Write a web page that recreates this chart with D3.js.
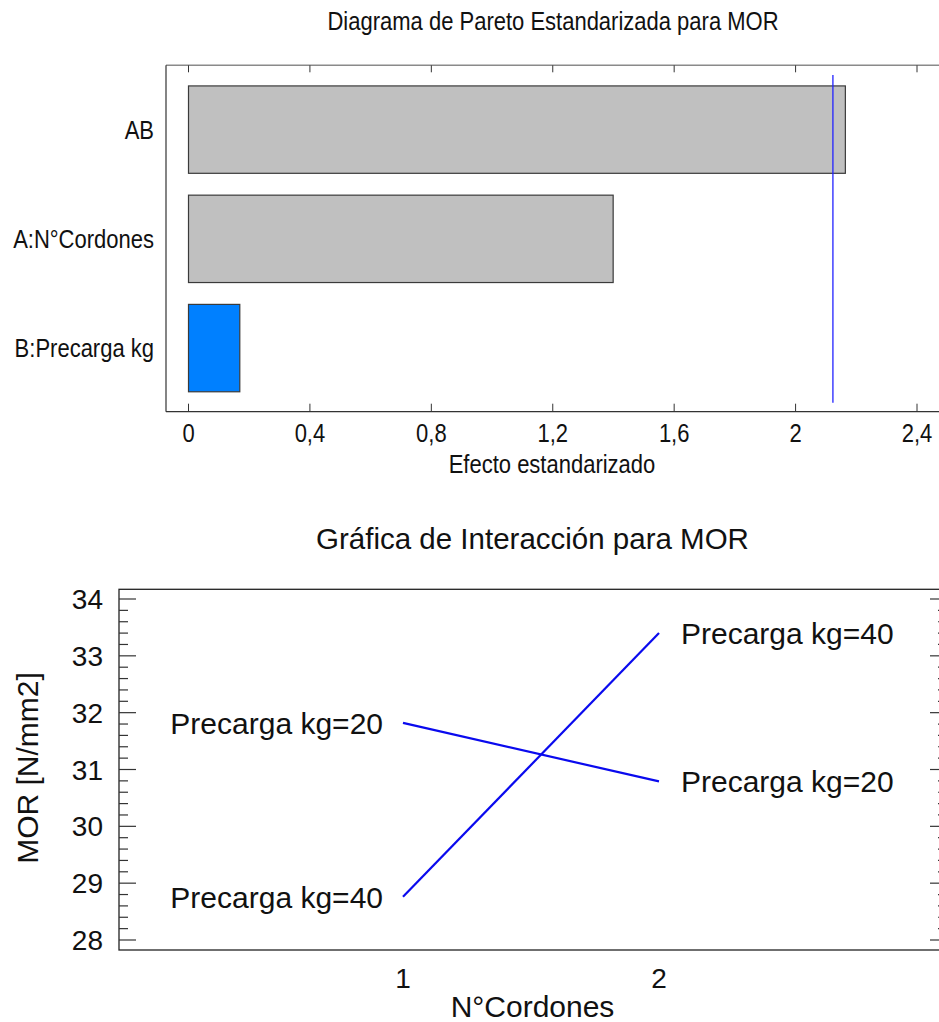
<!DOCTYPE html>
<html>
<head>
<meta charset="utf-8">
<script src="https://cdn.jsdelivr.net/npm/d3@7"></script>
<style>
  html, body { margin: 0; padding: 0; background: #fff; overflow: hidden; }
  svg { display: block; }
  text { font-family: Arial, "Liberation Sans", sans-serif; fill: #111; }
</style>
</head>
<body>
<svg id="chart" width="939" height="1022"></svg>
<script>
// ---------- Data: Pareto chart ----------
const paretoTitle = "Diagrama de Pareto Estandarizada para MOR";
const effectNames = ["AB", "A:N°Cordones", "B:Precarga kg"];
const effectValues = [2.164, 1.399, 0.169];
const effectSigns = ["-", "-", "+"];
const criticalValue = 2.123;
const paretoTicks = [0, 0.4, 0.8, 1.2, 1.6, 2, 2.4];
const paretoXLabel = "Efecto estandarizado";

// ---------- Data: Interaction chart ----------
const interTitle = "Gráfica de Interacción para MOR";
const cordonesLevels = [1, 2];
const seriesNames = ["Precarga kg=20", "Precarga kg=40"];
const mor20 = [31.82, 30.79];
const mor40 = [28.76, 33.40];
const morTicks = [28, 29, 30, 31, 32, 33, 34];
const interXLabel = "N°Cordones";
const interYLabel = "MOR [N/mm2]";

const svg = d3.select("#chart");
const fmt = d3.formatLocale({decimal: ",", thousands: ".", grouping: [3], currency: ["", ""]}).format("~g");

// ================= Pareto chart =================
const P = {left: 166, right: 947, top: 65.3, bottom: 411.7};
const sy = 1.13; // vertical stretch of text in this panel
const xP = d3.scaleLinear().domain([0, 2.4]).range([188.5, 917]);
const yP = d3.scaleBand().domain(effectNames).range([75, 402.7]).paddingInner(0.2).paddingOuter(0.1);
const gP = svg.append("g");

function stretchedText(g, x, y, str, anchor, size) {
  return g.append("text")
    .attr("transform", `translate(${x},${y}) scale(1,${sy})`)
    .attr("text-anchor", anchor)
    .style("font-size", size + "px")
    .text(str);
}

stretchedText(gP, 553, 30, paretoTitle, "middle", 22);

// frame
gP.append("line").attr("x1", P.left).attr("x2", P.right).attr("y1", P.top).attr("y2", P.top)
  .attr("stroke", "#8a8a8a").attr("stroke-width", 1.5);
gP.append("line").attr("x1", P.left).attr("x2", P.left).attr("y1", P.top).attr("y2", P.bottom)
  .attr("stroke", "#333").attr("stroke-width", 1.2);
gP.append("line").attr("x1", P.left).attr("x2", P.right).attr("y1", P.bottom).attr("y2", P.bottom)
  .attr("stroke", "#333").attr("stroke-width", 1.2);

// ticks
gP.selectAll(".tt").data(paretoTicks).join("line")
  .attr("x1", d => xP(d)).attr("x2", d => xP(d)).attr("y1", P.top).attr("y2", P.top + 7)
  .attr("stroke", "#333").attr("stroke-width", 1);
gP.selectAll(".bt").data(paretoTicks).join("line")
  .attr("x1", d => xP(d)).attr("x2", d => xP(d)).attr("y1", P.bottom).attr("y2", P.bottom - 8)
  .attr("stroke", "#333").attr("stroke-width", 1);
paretoTicks.forEach(t => stretchedText(gP, xP(t), 442, fmt(t), "middle", 22));
stretchedText(gP, 552, 473, paretoXLabel, "middle", 22);

// bars
gP.selectAll(".bar").data(effectNames).join("rect")
  .attr("x", xP(0))
  .attr("y", d => yP(d))
  .attr("width", (d, i) => xP(effectValues[i]) - xP(0))
  .attr("height", yP.bandwidth())
  .attr("fill", (d, i) => effectSigns[i] === "+" ? "#0080ff" : "#c0c0c0")
  .attr("stroke", "#3a3a3a").attr("stroke-width", 1.2);

effectNames.forEach(n => {
  gP.append("text")
    .attr("transform", `translate(154,${yP(n) + yP.bandwidth() / 2}) scale(1,${sy})`)
    .attr("text-anchor", "end").attr("dy", "0.36em")
    .style("font-size", "22px").text(n);
});

// critical line
gP.append("line")
  .attr("x1", xP(criticalValue)).attr("x2", xP(criticalValue))
  .attr("y1", yP.range()[0]).attr("y2", yP.range()[1])
  .attr("stroke", "#2222ff").attr("stroke-width", 1.3);

// ================= Interaction chart =================
const I = {left: 119, right: 947, top: 589.3, bottom: 950};
const xI = d3.scaleLinear().domain([1, 2]).range([403, 659]);
const yI = d3.scaleLinear().domain([28, 34]).range([940, 599]);
const gI = svg.append("g");

gI.append("text").attr("x", 532.5).attr("y", 549).attr("text-anchor", "middle")
  .style("font-size", "29.5px").text(interTitle);

// frame
gI.append("rect").attr("x", I.left).attr("y", I.top)
  .attr("width", I.right - I.left).attr("height", I.bottom - I.top)
  .attr("fill", "none").attr("stroke", "#222").attr("stroke-width", 1.3);

// y ticks (major + minor), left and right
const minorTicks = d3.range(28, 34.001, 0.2).map(v => Math.round(v * 10) / 10)
  .filter(v => !morTicks.includes(v));
function yTicks(xEdge, dir) {
  gI.selectAll(null).data(morTicks).join("line")
    .attr("x1", xEdge).attr("x2", xEdge + dir * 17)
    .attr("y1", d => yI(d)).attr("y2", d => yI(d))
    .attr("stroke", "#333").attr("stroke-width", 1.2);
  gI.selectAll(null).data(minorTicks).join("line")
    .attr("x1", xEdge).attr("x2", xEdge + dir * 9)
    .attr("y1", d => yI(d)).attr("y2", d => yI(d))
    .attr("stroke", "#333").attr("stroke-width", 1.2);
}
yTicks(I.left, 1);
yTicks(I.right, -1);

gI.selectAll(".yl").data(morTicks).join("text")
  .attr("x", 103).attr("y", d => yI(d)).attr("dy", "0.36em")
  .attr("text-anchor", "end").style("font-size", "28px").text(d => d);

gI.selectAll(".xl").data(cordonesLevels).join("text")
  .attr("x", d => xI(d)).attr("y", 988)
  .attr("text-anchor", "middle").style("font-size", "28px").text(d => d);

gI.append("text").attr("x", 532.5).attr("y", 1017).attr("text-anchor", "middle")
  .style("font-size", "30px").text(interXLabel);
gI.append("text").attr("transform", "translate(38,768) rotate(-90)")
  .attr("text-anchor", "middle").style("font-size", "30px").text(interYLabel);

// lines
const line = d3.line().x((d, i) => xI(cordonesLevels[i])).y(d => yI(d));
[mor20, mor40].forEach((s, k) => {
  gI.append("path").attr("d", line(s)).attr("fill", "none")
    .attr("stroke", "#0a0aee").attr("stroke-width", 2.2);
  gI.append("text").attr("x", xI(cordonesLevels[0]) - 20).attr("y", yI(s[0]))
    .attr("dy", "0.36em").attr("text-anchor", "end").style("font-size", "30px").text(seriesNames[k]);
  gI.append("text").attr("x", xI(cordonesLevels[1]) + 22).attr("y", yI(s[1]))
    .attr("dy", "0.36em").attr("text-anchor", "start").style("font-size", "30px").text(seriesNames[k]);
});
</script>
</body>
</html>
